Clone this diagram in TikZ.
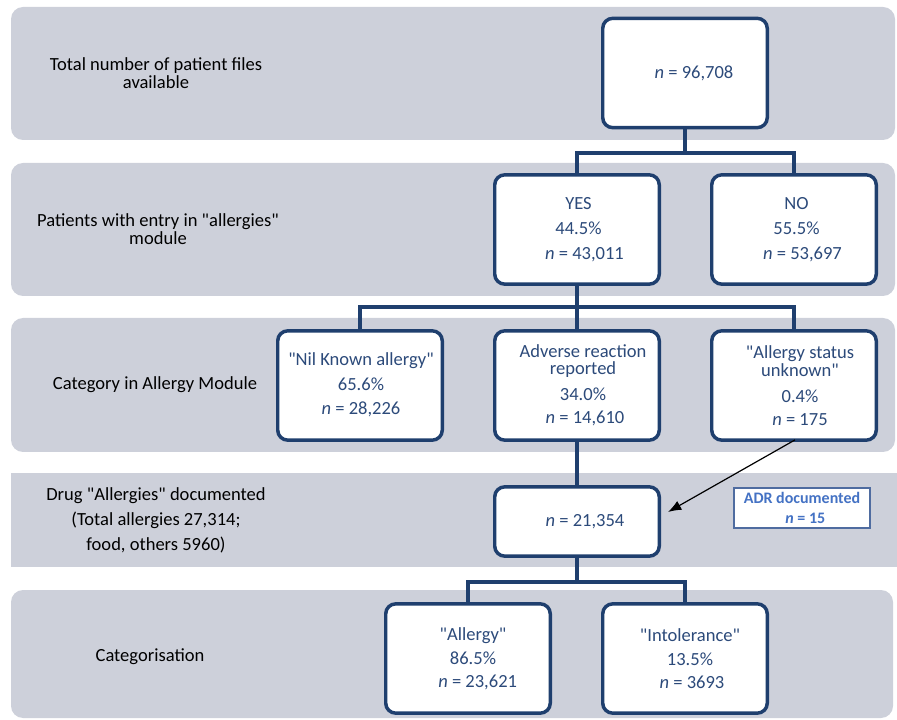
\documentclass[tikz,border=0pt]{standalone}
\usepackage{fontspec}
\setmainfont{Carlito}[Ligatures=TeXOff]
\usetikzlibrary{arrows.meta}
\definecolor{bandgray}{RGB}{205,208,218}
\definecolor{boxblue}{RGB}{31,63,110}
\definecolor{txtblue}{RGB}{44,74,122}
\definecolor{adrblue}{RGB}{68,114,196}
\definecolor{adrline}{RGB}{79,108,160}
\tikzset{
	band/.style={fill=bandgray, rounded corners=9pt},
	flatband/.style={fill=bandgray},
	stagebox/.style={shape=rectangle, draw=boxblue, line width=2.6pt, fill=white, rounded corners=7.5pt, minimum width=123.4pt, minimum height=82pt},
	stagetext/.style={anchor=center, align=center, inner sep=0pt, text=txtblue, font=\fontsize{13.9}{12}\selectfont},
	rowlabel/.style={anchor=center, align=center, inner sep=0pt, font=\fontsize{13.9}{13}\selectfont},
	wire/.style={draw=boxblue, line width=2.6pt},
	adrbox/.style={shape=rectangle, draw=adrline, line width=1.1pt, fill=white, minimum width=102pt, minimum height=30pt, align=center, inner sep=0pt, text=adrblue, font=\bfseries\fontsize{12}{14.5}\selectfont},
	adrarrow/.style={draw=black, line width=0.9pt, -{Latex[length=10pt, width=7.5pt]}}
}
\begin{document}
\begin{tikzpicture}[x=0.75pt, y=-0.75pt]
	\clip (0, 0) rectangle (897, 720);
	% Grey bands and row labels:
	\fill[band] (11, 7) rectangle (895, 140);
	\fill[band] (11, 163) rectangle (895, 296);
	\fill[band] (11, 318) rectangle (895, 452);
	\fill[flatband] (11, 473) rectangle (897, 567);
	\fill[band] (11, 590) rectangle (893, 718);
	\node[rowlabel] (lbl-total) at (156, 73) {Total number of patient files\\available};
	\node[rowlabel] (lbl-entry) at (158, 229) {Patients with entry in "allergies"\\module};
	\node[rowlabel] (lbl-category) at (155, 385) {Category in Allergy Module};
	\node[rowlabel] (lbl-drug) at (156, 520) {Drug "Allergies" documented\\[5.75pt](Total allergies 27,314;\\[5.75pt]food, others 5960)};
	\node[rowlabel] (lbl-categ) at (150, 657) {Categorisation};
	% Boxes:
	\node[stagebox] (total) at (685, 73) {};
	\node[stagetext] (total-t) at (694, 73) {\textit{n} = 96,708};
	\node[stagebox] (yes) at (577, 229.5) {};
	\node[stagetext] (yes-t) at (578.5, 230) {YES\\[6.75pt]44.5\%\\[6.75pt]\hspace*{9pt}\textit{n} = 43,011};
	\node[stagebox] (no) at (794, 229.5) {};
	\node[stagetext] (no-t) at (796.5, 230) {NO\\[6.75pt]55.5\%\\[6.75pt]\hspace*{9pt}\textit{n} = 53,697};
	\node[stagebox] (nil) at (360, 385.5) {};
	\node[stagetext] (nil-t) at (361, 385) {"Nil Known allergy"\\[6.5pt]65.6\%\hspace*{9pt}\\[6.2pt]\textit{n} = 28,226};
	\node[stagebox] (adverse) at (577, 385.5) {};
	\node[stagetext] (adverse-t) at (583, 385.5) {Adverse reaction\\[1pt]reported\\[7.5pt]34.0\%\hspace*{4pt}\\[5.25pt]\hspace*{3pt}\textit{n} = 14,610};
	\node[stagebox] (unknown) at (794, 385.5) {};
	\node[stagetext] (unknown-t) at (800, 385.5) {"Allergy status\\[1pt]unknown"\\[7.5pt]0.4\%\\[5.25pt]\textit{n} = 175};
	\node[stagebox, minimum height=52pt] (drug) at (577, 521.5) {};
	\node[stagetext] (drug-t) at (585, 522) {\textit{n} = 21,354};
	\node[adrbox] (adr) at (802, 508) {ADR documented\\\hspace*{5pt}\textit{n} = 15};
	\node[stagebox] (allergy) at (468, 658.5) {};
	\node[stagetext] (allergy-t) at (473, 659) {"Allergy"\\[5.6pt]86.5\%\hspace*{3pt}\\[5.6pt]\hspace*{7pt}\textit{n} = 23,621};
	\node[stagebox] (intol) at (685, 658.5) {};
	\node[stagetext] (intol-t) at (690, 659) {"Intolerance"\\[5.6pt]13.5\%\hspace*{3pt}\\[5.6pt]\hspace*{3pt}\textit{n} = 3693};
	% Wires:
	\coordinate (split1) at (685, 153);
	\coordinate (split2) at (577, 307);
	\coordinate (split3) at (577, 582);
	\draw[wire] (total.south) -- (split1);
	\draw[wire] (yes.north) |- (split1) -| (no.north);
	\draw[wire] (yes.south) -- (split2);
	\draw[wire] (nil.north) |- (split2) -| (unknown.north);
	\draw[wire] (split2) -- (adverse.north);
	\draw[wire] (adverse.south) -- (drug.north);
	\draw[wire] (drug.south) -- (split3);
	\draw[wire] (allergy.north) |- (split3) -| (intol.north);
	% ADR arrow:
	\coordinate (adrtip) at (668, 512);
	\draw[adrarrow] (unknown.south) ++(1, -2) -- (adrtip);
\end{tikzpicture}
\end{document}
